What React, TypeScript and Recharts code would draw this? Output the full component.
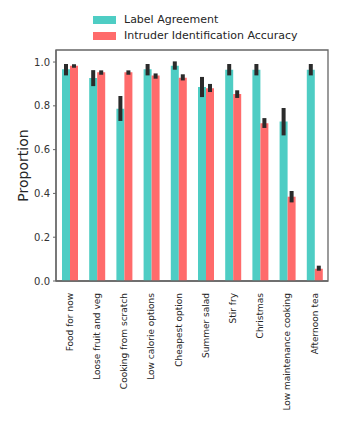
import React from 'react';
import { BarChart, Bar, XAxis, YAxis, ErrorBar, ReferenceArea } from 'recharts';

const categories = ['Food for now', 'Loose fruit and veg', 'Cooking from scratch', 'Low calorie options', 'Cheapest option', 'Summer salad', 'Stir fry', 'Christmas', 'Low maintenance cooking', 'Afternoon tea'];
const labelAgreement = [0.967, 0.927, 0.787, 0.967, 0.983, 0.886, 0.965, 0.965, 0.729, 0.965];
const labelLow = [0.939, 0.89, 0.731, 0.939, 0.965, 0.84, 0.939, 0.939, 0.665, 0.939];
const labelHigh = [0.991, 0.963, 0.845, 0.991, 1.003, 0.932, 0.991, 0.991, 0.79, 0.991];
const intruderAccuracy = [0.983, 0.953, 0.953, 0.938, 0.928, 0.88, 0.854, 0.721, 0.385, 0.056];
const intruderLow = [0.974, 0.942, 0.942, 0.924, 0.916, 0.863, 0.836, 0.699, 0.359, 0.047];
const intruderHigh = [0.99, 0.962, 0.962, 0.948, 0.944, 0.9, 0.871, 0.744, 0.411, 0.07];
const yTicks = [0, 0.2, 0.4, 0.6, 0.8, 1.0];
const yMax = 1.055;

const TEAL = '#4ECDC4';
const RED = '#FF6B6B';
const FONT = '"DejaVu Sans", sans-serif';

const data = categories.map((c, i) => ({
  name: c,
  label: labelAgreement[i],
  labelErr: [labelAgreement[i] - labelLow[i], labelHigh[i] - labelAgreement[i]],
  intruder: intruderAccuracy[i],
  intruderErr: [intruderAccuracy[i] - intruderLow[i], intruderHigh[i] - intruderAccuracy[i]],
}));

const XTick = (props: any) => {
  const { x, y, payload } = props;
  return (
    <text
      x={x}
      y={y}
      transform={`rotate(-90, ${x}, ${y})`}
      textAnchor="end"
      dy="0.35em"
      fontSize={9}
      fill="#262626"
      fontFamily={FONT}
    >
      {payload.value}
    </text>
  );
};

const YLabel = (props: any) => {
  const vb = props.viewBox || { y: 50, height: 231 };
  const cy = vb.y + vb.height / 2;
  return (
    <text x={23} y={cy} transform={`rotate(-90, 23, ${cy})`} textAnchor="middle" dy="0.35em" fontSize={14} fill="#262626" fontFamily={FONT}>
      Proportion
    </text>
  );
};

export default function App() {
  return (
    <div style={{ position: 'absolute', left: 0, top: 0, width: 343, height: 429, background: '#fff', fontFamily: FONT }}>
      <div style={{ position: 'absolute', left: 93, top: 16, width: 23, height: 8, background: TEAL }} />
      <div style={{ position: 'absolute', left: 124, top: 13, fontSize: 11, lineHeight: '14px', color: '#262626' }}>Label Agreement</div>
      <div style={{ position: 'absolute', left: 93, top: 32, width: 23, height: 8, background: RED }} />
      <div style={{ position: 'absolute', left: 124, top: 29, fontSize: 11, lineHeight: '14px', color: '#262626' }}>Intruder Identification Accuracy</div>
      <BarChart
        width={343}
        height={429}
        data={data}
        margin={{ top: 50, right: 15, bottom: 0, left: 0 }}
        barGap={0}
        barSize={8}
      >
        <XAxis
          dataKey="name"
          interval={0}
          height={148}
          tick={<XTick />}
          tickLine={false}
          tickSize={6}
          tickMargin={6}
          axisLine={{ stroke: '#666', strokeWidth: 1.3 }}
        />
        <YAxis
          width={56}
          domain={[0, yMax]}
          ticks={yTicks}
          tickFormatter={(v: number) => v.toFixed(1)}
          tickSize={3}
          tickMargin={3}
          tick={{ fontSize: 10, fill: '#333', fontFamily: FONT }}
          tickLine={{ stroke: '#666' }}
          axisLine={{ stroke: '#666', strokeWidth: 1.3 }}
          label={<YLabel />}
        />
        <ReferenceArea
          x1={categories[0]}
          x2={categories[categories.length - 1]}
          y1={0}
          y2={yMax}
          fill="none"
          fillOpacity={0}
          stroke="#666"
          strokeWidth={1.3}
          ifOverflow="visible"
        />
        <Bar dataKey="label" fill={TEAL} isAnimationActive={false}>
          <ErrorBar dataKey="labelErr" width={0} strokeWidth={4} stroke="#2b2b2b" />
        </Bar>
        <Bar dataKey="intruder" fill={RED} isAnimationActive={false}>
          <ErrorBar dataKey="intruderErr" width={0} strokeWidth={4} stroke="#2b2b2b" />
        </Bar>
      </BarChart>
    </div>
  );
}
